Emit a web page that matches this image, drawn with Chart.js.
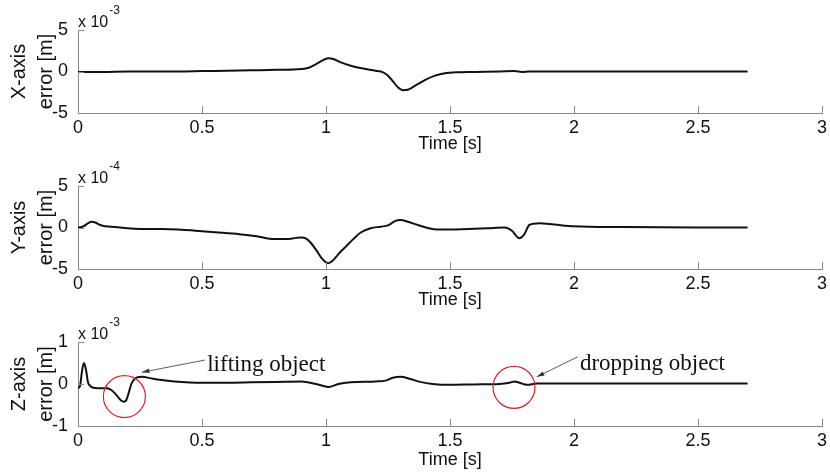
<!DOCTYPE html>
<html lang="en">
<head>
    <meta charset="UTF-8">
    <title>Tracking error</title>
    <script src="https://cdn.jsdelivr.net/npm/chart.js"></script>
    <style>
        body { margin: 0; background: #fff; }
        .plot { position: absolute; left: 0; width: 830px; }
    </style>
</head>
<body>
    <div class="plot" style="top:0;height:156px"><canvas id="xChart"></canvas></div>
    <div class="plot" style="top:156px;height:156px"><canvas id="yChart"></canvas></div>
    <div class="plot" style="top:312px;height:160px"><canvas id="zChart"></canvas></div>

    <script>
        // time axis ticks [s]
        const timeTicks = [0, 0.5, 1, 1.5, 2, 2.5, 3];

        // X-axis error, x 10^-3 m
        const xTime = [0, 0.1, 0.2, 0.3, 0.4, 0.5, 0.6, 0.7, 0.8, 0.9, 0.93, 0.96, 0.99, 1.01, 1.03, 1.06, 1.1, 1.15, 1.2, 1.23, 1.25, 1.27, 1.29, 1.31, 1.33, 1.36, 1.4, 1.44, 1.48, 1.52, 1.6, 1.7, 1.76, 1.79, 1.82, 1.9, 2.0, 2.2, 2.5, 2.7];
        const xErr = [-0.05, -0.05, 0, 0, 0, 0.05, 0.1, 0.15, 0.2, 0.3, 0.45, 0.9, 1.4, 1.6, 1.5, 1.1, 0.7, 0.35, 0.1, -0.1, -0.5, -1.2, -1.9, -2.25, -2.2, -1.7, -1.0, -0.5, -0.2, -0.1, -0.05, 0, 0.05, -0.05, 0, 0, 0, 0, 0, 0];

        // Y-axis error, x 10^-4 m
        const yTime = [0, 0.02, 0.04, 0.055, 0.07, 0.09, 0.11, 0.15, 0.2, 0.25, 0.34, 0.42, 0.5, 0.58, 0.65, 0.72, 0.79, 0.84, 0.88, 0.9, 0.92, 0.94, 0.96, 0.98, 1.0, 1.01, 1.03, 1.05, 1.08, 1.11, 1.14, 1.18, 1.22, 1.25, 1.28, 1.3, 1.33, 1.37, 1.41, 1.45, 1.55, 1.65, 1.72, 1.75, 1.77, 1.78, 1.8, 1.82, 1.86, 1.92, 2.0, 2.2, 2.5, 2.7];
        const yErr = [0, 0.1, 0.5, 0.7, 0.6, 0.3, 0.15, 0.05, -0.1, -0.17, -0.17, -0.28, -0.45, -0.62, -0.8, -1.05, -1.4, -1.4, -1.25, -1.2, -1.35, -1.9, -2.7, -3.6, -4.2, -4.3, -3.9, -3.2, -2.3, -1.4, -0.6, -0.1, 0.1, 0.25, 0.8, 0.9, 0.7, 0.3, -0.05, -0.25, -0.2, -0.1, 0, -0.4, -1.1, -1.3, -0.8, 0.3, 0.5, 0.35, 0.15, 0.05, 0, 0];

        // Z-axis error, x 10^-3 m
        const zTime = [0, 0.008, 0.016, 0.024, 0.032, 0.04, 0.05, 0.062, 0.08, 0.1, 0.115, 0.13, 0.145, 0.16, 0.175, 0.185, 0.195, 0.205, 0.215, 0.225, 0.24, 0.26, 0.29, 0.33, 0.39, 0.5, 0.6, 0.7, 0.8, 0.9, 0.96, 1.01, 1.05, 1.1, 1.2, 1.24, 1.27, 1.3, 1.34, 1.38, 1.43, 1.5, 1.6, 1.7, 1.74, 1.76, 1.78, 1.81, 1.85, 2.0, 2.2, 2.4, 2.7];
        const zErr = [-0.1, -0.05, 0.3, 0.5, 0.35, 0.05, -0.05, -0.09, -0.1, -0.1, -0.1, -0.13, -0.2, -0.3, -0.4, -0.42, -0.38, -0.2, 0.0, 0.1, 0.16, 0.17, 0.14, 0.1, 0.06, 0.03, 0.03, 0.04, 0.05, 0.06, 0.0, -0.07, 0.0, 0.04, 0.06, 0.08, 0.15, 0.17, 0.12, 0.05, 0.0, -0.02, -0.01, 0.0, 0.03, 0.06, 0.03, -0.02, 0.01, 0.01, 0.01, 0.01, 0.01];

        // annotations on the Z plot (data units)
        const zNotes = [
            { text: 'lifting object', circle: [0.187, -0.30], tail: [0.512, 0.57], tip: [0.257, 0.28], label: [0.521, 0.31] },
            { text: 'dropping object', circle: [1.758, -0.08], tail: [2.016, 0.65], tip: [1.85, 0.17], label: [2.024, 0.33] }
        ];

        const sans = '"Liberation Sans", Arial, sans-serif';

        // small inside ticks, exponent label and notes
        const extrasPlugin = {
            id: 'extras',
            afterDraw(chart, args, opts) {
                const ctx = chart.ctx;
                const xs = chart.scales.x, ys = chart.scales.y;
                const area = chart.chartArea;
                ctx.save();
                ctx.strokeStyle = '#888';
                ctx.lineWidth = 1;
                ctx.beginPath();
                xs.ticks.forEach(t => {
                    const px = Math.round(xs.getPixelForValue(t.value)) + 0.5;
                    ctx.moveTo(px, area.bottom);
                    ctx.lineTo(px, area.bottom - 7);
                });
                ys.ticks.forEach(t => {
                    const py = Math.round(ys.getPixelForValue(t.value)) + 0.5;
                    ctx.moveTo(area.left, py);
                    ctx.lineTo(area.left + 6, py);
                });
                ctx.stroke();

                // "x 10^-n"
                ctx.fillStyle = '#111';
                ctx.textBaseline = 'alphabetic';
                ctx.textAlign = 'left';
                ctx.font = '16px ' + sans;
                const base = 'x 10';
                ctx.fillText(base, area.left, area.top - 3);
                const w = ctx.measureText(base).width;
                ctx.font = '12px ' + sans;
                ctx.fillText(opts.exponent, area.left + w + 1, area.top - 16);

                (opts.notes || []).forEach(n => {
                    const cx = xs.getPixelForValue(n.circle[0]), cy = ys.getPixelForValue(n.circle[1]);
                    ctx.strokeStyle = '#d8262a';
                    ctx.lineWidth = 1.2;
                    ctx.beginPath();
                    ctx.arc(cx, cy, 21, 0, Math.PI * 2);
                    ctx.stroke();

                    const x0 = xs.getPixelForValue(n.tail[0]), y0 = ys.getPixelForValue(n.tail[1]);
                    const x1 = xs.getPixelForValue(n.tip[0]), y1 = ys.getPixelForValue(n.tip[1]);
                    const ang = Math.atan2(y1 - y0, x1 - x0);
                    ctx.strokeStyle = '#333';
                    ctx.fillStyle = '#333';
                    ctx.lineWidth = 0.8;
                    ctx.beginPath();
                    ctx.moveTo(x0, y0);
                    ctx.lineTo(x1, y1);
                    ctx.stroke();
                    ctx.beginPath();
                    ctx.moveTo(x1, y1);
                    ctx.lineTo(x1 - 8 * Math.cos(ang - 0.3), y1 - 8 * Math.sin(ang - 0.3));
                    ctx.lineTo(x1 - 8 * Math.cos(ang + 0.3), y1 - 8 * Math.sin(ang + 0.3));
                    ctx.closePath();
                    ctx.fill();

                    ctx.fillStyle = '#111';
                    ctx.font = '23px "Liberation Serif", "Times New Roman", serif';
                    ctx.fillText(n.text, xs.getPixelForValue(n.label[0]), ys.getPixelForValue(n.label[1]));
                });
                ctx.restore();
            }
        };

        function makeChart(id, times, values, cfg) {
            const pts = times.map((t, i) => ({ x: t, y: values[i] }));
            return new Chart(document.getElementById(id), {
                type: 'line',
                data: {
                    datasets: [{
                        data: pts,
                        borderColor: '#111',
                        borderWidth: 2,
                        pointRadius: 0,
                        cubicInterpolationMode: 'monotone',
                        fill: false
                    }]
                },
                options: {
                    responsive: true,
                    maintainAspectRatio: false,
                    animation: false,
                    events: [],
                    layout: { padding: { top: 30, right: 8, left: 0, bottom: 0 } },
                    plugins: {
                        legend: { display: false },
                        tooltip: { enabled: false },
                        extras: { exponent: cfg.exponent, notes: cfg.notes }
                    },
                    scales: {
                        x: {
                            type: 'linear',
                            min: timeTicks[0],
                            max: timeTicks[timeTicks.length - 1],
                            afterBuildTicks: s => { s.ticks = timeTicks.map(v => ({ value: v })); },
                            afterFit: s => { s.height = cfg.xHeight; },
                            grid: { display: false },
                            border: { display: true, color: '#888', width: 1 },
                            ticks: { color: '#111', font: { family: sans, size: 18 }, padding: -4, maxRotation: 0, callback: v => String(v) },
                            title: { display: true, text: 'Time [s]', color: '#111', font: { family: sans, size: 18 }, padding: { top: 0, bottom: 1 } }
                        },
                        y: {
                            min: cfg.yTicks[0],
                            max: cfg.yTicks[cfg.yTicks.length - 1],
                            afterBuildTicks: s => { s.ticks = cfg.yTicks.map(v => ({ value: v })); },
                            afterFit: s => { s.width = 78; },
                            grid: { display: false },
                            border: { display: true, color: '#888', width: 1 },
                            ticks: { color: '#111', font: { family: sans, size: 18 }, padding: 2, callback: v => String(v) },
                            title: { display: true, text: cfg.yTitle, color: '#111', font: { family: sans, size: 20, lineHeight: 1.35 }, padding: { top: 6, bottom: 0 } }
                        }
                    }
                },
                plugins: [extrasPlugin]
            });
        }

        makeChart('xChart', xTime, xErr, { yTicks: [-5, 0, 5], exponent: '-3', yTitle: ['X-axis', 'error [m]'], xHeight: 43 });
        makeChart('yChart', yTime, yErr, { yTicks: [-5, 0, 5], exponent: '-4', yTitle: ['Y-axis', 'error [m]'], xHeight: 43 });
        makeChart('zChart', zTime, zErr, { yTicks: [-1, 0, 1], exponent: '-3', yTitle: ['Z-axis', 'error [m]'], xHeight: 46, notes: zNotes });
    </script>
</body>
</html>
